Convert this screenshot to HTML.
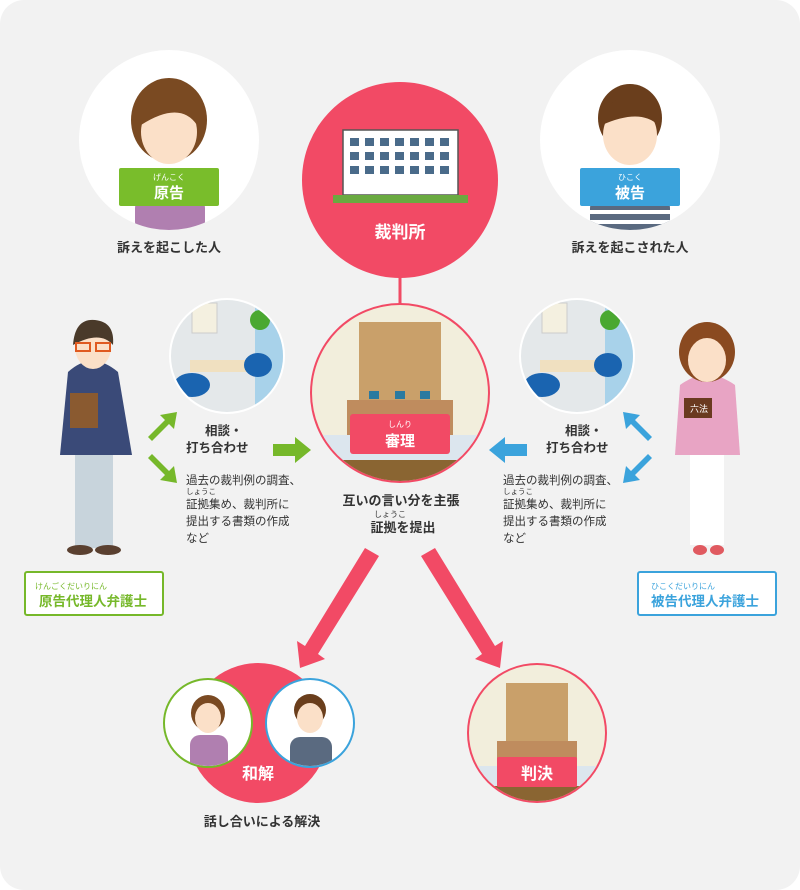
<!DOCTYPE html>
<html><head><meta charset="utf-8"><style>
html,body{margin:0;padding:0;background:#fff;}
svg{display:block;}
text{font-family:"Liberation Sans","Noto Sans CJK JP",sans-serif;}
</style></head><body>
<svg width="800" height="890" viewBox="0 0 800 890" xmlns="http://www.w3.org/2000/svg">
<defs>
<clipPath id="ctrial"><circle cx="400" cy="393" r="88"/></clipPath>
<clipPath id="cjudge"><circle cx="537" cy="733" r="68"/></clipPath>
<clipPath id="croomL"><circle cx="227" cy="356" r="56"/></clipPath>
<clipPath id="croomR"><circle cx="577" cy="356" r="56"/></clipPath>
<clipPath id="cpl"><circle cx="169" cy="140" r="90"/></clipPath>
<clipPath id="cdf"><circle cx="630" cy="140" r="90"/></clipPath>
<clipPath id="cs1"><circle cx="208" cy="723" r="43"/></clipPath>
<clipPath id="cs2"><circle cx="310" cy="723" r="43"/></clipPath>
</defs>
<rect x="0" y="0" width="800" height="890" rx="24" fill="#f2f2f2"/>

<!-- plaintiff -->
<circle cx="169" cy="140" r="90" fill="#fff"/>
<g clip-path="url(#cpl)">
<rect x="135" y="190" width="70" height="50" rx="18" fill="#b07fb0"/>
<ellipse cx="169" cy="120" rx="38" ry="42" fill="#7a4a22"/>
<ellipse cx="169" cy="132" rx="28" ry="32" fill="#fbe0c8"/>
<path d="M141 120 Q150 90 190 100 L197 125 Q180 100 141 125Z" fill="#7a4a22"/>
</g>
<rect x="119" y="168" width="100" height="38" rx="2" fill="#79bd2b"/>
<text x="169" y="180" font-size="8" fill="#fff" text-anchor="middle">げんこく</text>
<text x="169" y="198" font-size="15" font-weight="bold" fill="#fff" text-anchor="middle">原告</text>
<text x="169" y="252" font-size="13" fill="#333" text-anchor="middle" font-weight="bold">訴えを起こした人</text>

<!-- defendant -->
<circle cx="630" cy="140" r="90" fill="#fff"/>
<g clip-path="url(#cdf)">
<rect x="590" y="190" width="80" height="50" rx="18" fill="#5a6a80"/>
<rect x="590" y="200" width="80" height="4" fill="#fff"/><rect x="590" y="210" width="80" height="4" fill="#fff"/><rect x="590" y="220" width="80" height="4" fill="#fff"/>
<ellipse cx="630" cy="118" rx="32" ry="34" fill="#6a3e1c"/>
<ellipse cx="630" cy="135" rx="27" ry="30" fill="#fbe0c8"/>
<path d="M602 125 Q608 92 640 95 Q660 100 658 125 Q640 108 602 125Z" fill="#6a3e1c"/>
</g>
<rect x="580" y="168" width="100" height="38" rx="2" fill="#3ba3dc"/>
<text x="630" y="180" font-size="8" fill="#fff" text-anchor="middle">ひこく</text>
<text x="630" y="198" font-size="15" font-weight="bold" fill="#fff" text-anchor="middle">被告</text>
<text x="630" y="252" font-size="13" fill="#333" text-anchor="middle" font-weight="bold">訴えを起こされた人</text>

<!-- court -->
<line x1="400" y1="270" x2="400" y2="305" stroke="#f04b64" stroke-width="3"/>
<circle cx="400" cy="180" r="98" fill="#f24a65"/>
<rect x="343" y="130" width="115" height="65" fill="#fff" stroke="#555" stroke-width="1.5"/>
<g fill="#4a6b8a">
<rect x="350" y="138" width="9" height="8"/><rect x="365" y="138" width="9" height="8"/><rect x="380" y="138" width="9" height="8"/><rect x="395" y="138" width="9" height="8"/><rect x="410" y="138" width="9" height="8"/><rect x="425" y="138" width="9" height="8"/><rect x="440" y="138" width="9" height="8"/>
<rect x="350" y="152" width="9" height="8"/><rect x="365" y="152" width="9" height="8"/><rect x="380" y="152" width="9" height="8"/><rect x="395" y="152" width="9" height="8"/><rect x="410" y="152" width="9" height="8"/><rect x="425" y="152" width="9" height="8"/><rect x="440" y="152" width="9" height="8"/>
<rect x="350" y="166" width="9" height="8"/><rect x="365" y="166" width="9" height="8"/><rect x="380" y="166" width="9" height="8"/><rect x="395" y="166" width="9" height="8"/><rect x="410" y="166" width="9" height="8"/><rect x="425" y="166" width="9" height="8"/><rect x="440" y="166" width="9" height="8"/>
</g>
<rect x="333" y="195" width="135" height="8" fill="#6aaa40"/>
<text x="400" y="238" font-size="17" font-weight="bold" fill="#fff" text-anchor="middle">裁判所</text>

<!-- trial -->
<circle cx="400" cy="393" r="90" fill="#f24a65"/>
<g clip-path="url(#ctrial)">
<rect x="300" y="300" width="200" height="190" fill="#f2eedc"/>
<rect x="359" y="322" width="82" height="80" fill="#c9a06a"/>
<rect x="347" y="400" width="106" height="35" fill="#bf8c5e"/>
<rect x="369" y="391" width="10" height="8" fill="#2a7aa0"/><rect x="395" y="391" width="10" height="8" fill="#2a7aa0"/><rect x="420" y="391" width="10" height="8" fill="#2a7aa0"/>
<rect x="300" y="435" width="200" height="30" fill="#dce6ee"/>
<rect x="300" y="460" width="200" height="30" fill="#8a6532"/>
</g>
<rect x="350" y="414" width="100" height="40" rx="3" fill="#f24a65"/>
<text x="400" y="427" font-size="8" fill="#fff" text-anchor="middle">しんり</text>
<text x="400" y="446" font-size="15" font-weight="bold" fill="#fff" text-anchor="middle">審理</text>
<text x="401" y="505" font-size="13" fill="#333" text-anchor="middle" font-weight="bold">互いの言い分を主張</text>
<text x="390" y="517" font-size="8" fill="#333" text-anchor="middle">しょうこ</text>
<text x="403" y="532" font-size="13" fill="#333" text-anchor="middle" font-weight="bold">証拠を提出</text>

<!-- rooms -->
<circle cx="227" cy="356" r="58" fill="#fff"/>
<g clip-path="url(#croomL)">
<rect x="170" y="300" width="115" height="115" fill="#e4e8ea"/>
<rect x="255" y="300" width="30" height="115" fill="#a8d2ea"/>
<rect x="192" y="303" width="25" height="30" fill="#f4f0e0" stroke="#ccc"/>
<rect x="190" y="360" width="80" height="12" fill="#f0e0c0"/>
<ellipse cx="192" cy="385" rx="18" ry="12" fill="#1a64b0"/>
<ellipse cx="258" cy="365" rx="14" ry="12" fill="#1a64b0"/>
<circle cx="260" cy="320" r="10" fill="#4aa830"/>
</g>
<circle cx="577" cy="356" r="58" fill="#fff"/>
<g clip-path="url(#croomR)">
<rect x="520" y="300" width="115" height="115" fill="#e4e8ea"/>
<rect x="605" y="300" width="30" height="115" fill="#a8d2ea"/>
<rect x="542" y="303" width="25" height="30" fill="#f4f0e0" stroke="#ccc"/>
<rect x="540" y="360" width="80" height="12" fill="#f0e0c0"/>
<ellipse cx="542" cy="385" rx="18" ry="12" fill="#1a64b0"/>
<ellipse cx="608" cy="365" rx="14" ry="12" fill="#1a64b0"/>
<circle cx="610" cy="320" r="10" fill="#4aa830"/>
</g>

<!-- left arrows/text -->
<g fill="#76b82a">
<polygon points="148,437 165,420 160,415 177,412 174,429 169,424 152,441"/>
<polygon points="148,458 165,475 160,480 177,483 174,466 169,471 152,454"/>
<polygon points="273,444 295,444 295,437 311,450 295,463 295,456 273,456"/>
<polygon points="527,444 505,444 505,437 489,450 505,463 505,456 527,456" fill="#3ba3dc"/>
<polygon points="652,437 635,420 640,415 623,412 626,429 631,424 648,441" fill="#3ba3dc"/>
<polygon points="652,458 635,475 640,480 623,483 626,466 631,471 648,454" fill="#3ba3dc"/>
</g>
<g font-size="12.5" fill="#333" font-weight="bold">
<text x="205" y="435">相談・</text>
<text x="186" y="452">打ち合わせ</text>
<text x="565" y="435">相談・</text>
<text x="546" y="452">打ち合わせ</text>
</g>
<g font-size="11.5" fill="#333">
<text x="186" y="484">過去の裁判例の調査、</text>
<text x="186" y="494" font-size="7.5">しょうこ</text>
<text x="186" y="508">証拠集め、裁判所に</text>
<text x="186" y="525">提出する書類の作成</text>
<text x="186" y="542">など</text>
<text x="503" y="484">過去の裁判例の調査、</text>
<text x="503" y="494" font-size="7.5">しょうこ</text>
<text x="503" y="508">証拠集め、裁判所に</text>
<text x="503" y="525">提出する書類の作成</text>
<text x="503" y="542">など</text>
</g>

<!-- left lawyer -->
<rect x="75" y="448" width="38" height="100" fill="#c8d4dc"/>
<path d="M68 372 Q92 350 118 372 L132 455 L60 455Z" fill="#3a4a78"/>
<rect x="70" y="393" width="28" height="35" fill="#8a5a30"/>
<ellipse cx="93" cy="347" rx="18" ry="22" fill="#fbe0c8"/>
<path d="M73 345 Q75 318 95 320 Q115 322 113 345 Q100 330 73 345Z" fill="#4a3a2a"/>
<rect x="76" y="343" width="14" height="8" fill="none" stroke="#e05a20" stroke-width="2"/><rect x="96" y="343" width="14" height="8" fill="none" stroke="#e05a20" stroke-width="2"/>
<ellipse cx="80" cy="550" rx="13" ry="5" fill="#5a4030"/><ellipse cx="108" cy="550" rx="13" ry="5" fill="#5a4030"/>
<rect x="25" y="572" width="138" height="43" rx="2" fill="#fff" stroke="#76b82a" stroke-width="2"/>
<text x="35" y="589" font-size="8" fill="#76b82a">けんごくだいりにん</text>
<text x="39" y="606" font-size="13.5" font-weight="bold" fill="#76b82a">原告代理人弁護士</text>

<!-- right lawyer -->
<rect x="690" y="450" width="34" height="95" fill="#fff"/>
<path d="M680 385 Q707 365 735 385 L740 455 L675 455Z" fill="#e8a4c4"/>
<rect x="684" y="398" width="28" height="20" fill="#6a3a20"/>
<text x="690" y="412" font-size="9" fill="#fff">六法</text>
<ellipse cx="707" cy="352" rx="28" ry="30" fill="#8a4a20"/>
<ellipse cx="707" cy="360" rx="19" ry="22" fill="#fbe0c8"/>
<ellipse cx="700" cy="550" rx="7" ry="5" fill="#e05a60"/><ellipse cx="717" cy="550" rx="7" ry="5" fill="#e05a60"/>
<rect x="638" y="572" width="138" height="43" rx="2" fill="#fff" stroke="#3ba3dc" stroke-width="2"/>
<text x="651" y="589" font-size="8" fill="#3ba3dc">ひこくだいりにん</text>
<text x="651" y="606" font-size="13.5" font-weight="bold" fill="#3ba3dc">被告代理人弁護士</text>

<!-- big arrows -->
<g fill="#f24a65">
<polygon points="365,548 379,556 318,654 325,659 300,668 297,641 305,646"/>
<polygon points="435,548 421,556 482,654 475,659 500,668 503,641 495,646"/>
</g>

<!-- settlement -->
<circle cx="258" cy="733" r="70" fill="#f24a65"/>
<circle cx="208" cy="723" r="44" fill="#fff" stroke="#76b82a" stroke-width="2"/>
<g clip-path="url(#cs1)">
<rect x="190" y="735" width="38" height="40" rx="10" fill="#b07fb0"/>
<ellipse cx="208" cy="713" rx="17" ry="18" fill="#7a4a22"/>
<ellipse cx="208" cy="718" rx="13" ry="15" fill="#fbe0c8"/>
</g>
<circle cx="310" cy="723" r="44" fill="#fff" stroke="#3ba3dc" stroke-width="2"/>
<g clip-path="url(#cs2)">
<rect x="290" y="737" width="42" height="40" rx="10" fill="#5a6a80"/>
<ellipse cx="310" cy="710" rx="16" ry="16" fill="#6a3e1c"/>
<ellipse cx="310" cy="718" rx="13" ry="15" fill="#fbe0c8"/>
</g>
<text x="258" y="779" font-size="16" font-weight="bold" fill="#fff" text-anchor="middle">和解</text>
<text x="262" y="826" font-size="13" fill="#333" text-anchor="middle" font-weight="bold">話し合いによる解決</text>

<!-- judgment -->
<circle cx="537" cy="733" r="70" fill="#f24a65"/>
<g clip-path="url(#cjudge)">
<rect x="467" y="663" width="140" height="140" fill="#f2eedc"/>
<rect x="506" y="683" width="62" height="60" fill="#c9a06a"/>
<rect x="497" y="741" width="80" height="25" fill="#bf8c5e"/>
<rect x="467" y="766" width="140" height="20" fill="#dce6ee"/>
<rect x="467" y="786" width="140" height="20" fill="#8a6532"/>
</g>
<rect x="497" y="757" width="80" height="30" rx="2" fill="#f24a65"/>
<text x="537" y="779" font-size="16" font-weight="bold" fill="#fff" text-anchor="middle">判決</text>
</svg>
</body></html>
